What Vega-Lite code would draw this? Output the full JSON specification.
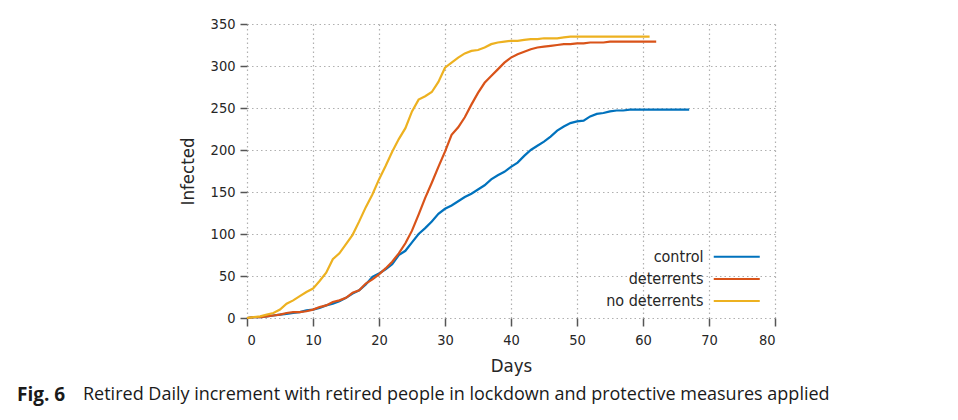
{
  "$schema": "https://vega.github.io/schema/vega-lite/v6.json",
  "autosize": {"type": "none"},
  "padding": {"left": 247, "top": 24, "right": 183, "bottom": 102},
  "width": 528,
  "height": 294,
  "background": "white",
  "config": {
    "view": {"stroke": null},
    "font": "DejaVu Sans Condensed",
    "axis": {
      "domain": false,
      "grid": true,
      "gridColor": "#b0b0b0",
      "gridDash": [1.5, 3],
      "gridWidth": 1.2,
      "tickColor": "#555555",
      "tickWidth": 1.5,
      "tickSize": 7,
      "labelFont": "DejaVu Sans Condensed",
      "labelFontSize": 14.5,
      "labelColor": "#262626",
      "titleFont": "DejaVu Sans Condensed",
      "titleFontSize": 18.5,
      "titleFontWeight": "normal",
      "titleColor": "#262626"
    }
  },
  "title": {
    "text": "Fig. 6",
    "subtitle": "\u200b\u2003\u2003\u2003\u2002\u2009Retired Daily increment with retired people in lockdown and protective measures applied",
    "orient": "bottom",
    "anchor": "start",
    "frame": "group",
    "dx": -230,
    "offset": 11,
    "font": "Open Sans",
    "fontSize": 19,
    "fontWeight": "bold",
    "color": "#1a1a1a",
    "subtitleFont": "Open Sans",
    "subtitleFontSize": 18,
    "subtitleColor": "#1a1a1a",
    "subtitlePadding": -19
  },
  "data": {
    "values": [
      {"group":"control","day":0,"infected":0},{"group":"control","day":1,"infected":1},{"group":"control","day":2,"infected":1},{"group":"control","day":3,"infected":2},{"group":"control","day":4,"infected":3},{"group":"control","day":5,"infected":4},{"group":"control","day":6,"infected":5},{"group":"control","day":7,"infected":6},{"group":"control","day":8,"infected":7},{"group":"control","day":9,"infected":9},
      {"group":"control","day":10,"infected":10},{"group":"control","day":11,"infected":12},{"group":"control","day":12,"infected":15},{"group":"control","day":13,"infected":17},{"group":"control","day":14,"infected":20},{"group":"control","day":15,"infected":24},{"group":"control","day":16,"infected":29},{"group":"control","day":17,"infected":33},{"group":"control","day":18,"infected":40},{"group":"control","day":19,"infected":49},
      {"group":"control","day":20,"infected":53},{"group":"control","day":21,"infected":58},{"group":"control","day":22,"infected":64},{"group":"control","day":23,"infected":75},{"group":"control","day":24,"infected":80},{"group":"control","day":25,"infected":90},{"group":"control","day":26,"infected":100},{"group":"control","day":27,"infected":107},{"group":"control","day":28,"infected":115},{"group":"control","day":29,"infected":124},
      {"group":"control","day":30,"infected":130},{"group":"control","day":31,"infected":134},{"group":"control","day":32,"infected":139},{"group":"control","day":33,"infected":144},{"group":"control","day":34,"infected":148},{"group":"control","day":35,"infected":153},{"group":"control","day":36,"infected":158},{"group":"control","day":37,"infected":165},{"group":"control","day":38,"infected":170},{"group":"control","day":39,"infected":174},
      {"group":"control","day":40,"infected":180},{"group":"control","day":41,"infected":185},{"group":"control","day":42,"infected":193},{"group":"control","day":43,"infected":200},{"group":"control","day":44,"infected":205},{"group":"control","day":45,"infected":210},{"group":"control","day":46,"infected":216},{"group":"control","day":47,"infected":223},{"group":"control","day":48,"infected":228},{"group":"control","day":49,"infected":232},
      {"group":"control","day":50,"infected":234},{"group":"control","day":51,"infected":235},{"group":"control","day":52,"infected":240},{"group":"control","day":53,"infected":243},{"group":"control","day":54,"infected":244},{"group":"control","day":55,"infected":246},{"group":"control","day":56,"infected":247},{"group":"control","day":57,"infected":247},{"group":"control","day":58,"infected":248},{"group":"control","day":59,"infected":248},
      {"group":"control","day":60,"infected":248},{"group":"control","day":61,"infected":248},{"group":"control","day":62,"infected":248},{"group":"control","day":63,"infected":248},{"group":"control","day":64,"infected":248},{"group":"control","day":65,"infected":248},{"group":"control","day":66,"infected":248},{"group":"control","day":67,"infected":248},
      {"group":"deterrents","day":0,"infected":0},{"group":"deterrents","day":1,"infected":1},{"group":"deterrents","day":2,"infected":1},{"group":"deterrents","day":3,"infected":2},{"group":"deterrents","day":4,"infected":3},{"group":"deterrents","day":5,"infected":4},{"group":"deterrents","day":6,"infected":6},{"group":"deterrents","day":7,"infected":7},{"group":"deterrents","day":8,"infected":7},{"group":"deterrents","day":9,"infected":8},
      {"group":"deterrents","day":10,"infected":10},{"group":"deterrents","day":11,"infected":13},{"group":"deterrents","day":12,"infected":15},{"group":"deterrents","day":13,"infected":19},{"group":"deterrents","day":14,"infected":21},{"group":"deterrents","day":15,"infected":24},{"group":"deterrents","day":16,"infected":30},{"group":"deterrents","day":17,"infected":33},{"group":"deterrents","day":18,"infected":41},{"group":"deterrents","day":19,"infected":46},
      {"group":"deterrents","day":20,"infected":52},{"group":"deterrents","day":21,"infected":59},{"group":"deterrents","day":22,"infected":67},{"group":"deterrents","day":23,"infected":77},{"group":"deterrents","day":24,"infected":89},{"group":"deterrents","day":25,"infected":104},{"group":"deterrents","day":26,"infected":123},{"group":"deterrents","day":27,"infected":143},{"group":"deterrents","day":28,"infected":161},{"group":"deterrents","day":29,"infected":180},
      {"group":"deterrents","day":30,"infected":198},{"group":"deterrents","day":31,"infected":218},{"group":"deterrents","day":32,"infected":227},{"group":"deterrents","day":33,"infected":239},{"group":"deterrents","day":34,"infected":254},{"group":"deterrents","day":35,"infected":268},{"group":"deterrents","day":36,"infected":280},{"group":"deterrents","day":37,"infected":288},{"group":"deterrents","day":38,"infected":296},{"group":"deterrents","day":39,"infected":304},
      {"group":"deterrents","day":40,"infected":310},{"group":"deterrents","day":41,"infected":314},{"group":"deterrents","day":42,"infected":317},{"group":"deterrents","day":43,"infected":320},{"group":"deterrents","day":44,"infected":322},{"group":"deterrents","day":45,"infected":323},{"group":"deterrents","day":46,"infected":324},{"group":"deterrents","day":47,"infected":325},{"group":"deterrents","day":48,"infected":326},{"group":"deterrents","day":49,"infected":326},
      {"group":"deterrents","day":50,"infected":327},{"group":"deterrents","day":51,"infected":327},{"group":"deterrents","day":52,"infected":328},{"group":"deterrents","day":53,"infected":328},{"group":"deterrents","day":54,"infected":328},{"group":"deterrents","day":55,"infected":329},{"group":"deterrents","day":56,"infected":329},{"group":"deterrents","day":57,"infected":329},{"group":"deterrents","day":58,"infected":329},{"group":"deterrents","day":59,"infected":329},
      {"group":"deterrents","day":60,"infected":329},{"group":"deterrents","day":61,"infected":329},{"group":"deterrents","day":62,"infected":329},
      {"group":"no deterrents","day":0,"infected":0},{"group":"no deterrents","day":1,"infected":1},{"group":"no deterrents","day":2,"infected":2},{"group":"no deterrents","day":3,"infected":4},{"group":"no deterrents","day":4,"infected":6},{"group":"no deterrents","day":5,"infected":10},{"group":"no deterrents","day":6,"infected":17},{"group":"no deterrents","day":7,"infected":21},{"group":"no deterrents","day":8,"infected":26},{"group":"no deterrents","day":9,"infected":31},
      {"group":"no deterrents","day":10,"infected":35},{"group":"no deterrents","day":11,"infected":44},{"group":"no deterrents","day":12,"infected":54},{"group":"no deterrents","day":13,"infected":70},{"group":"no deterrents","day":14,"infected":77},{"group":"no deterrents","day":15,"infected":88},{"group":"no deterrents","day":16,"infected":99},{"group":"no deterrents","day":17,"infected":115},{"group":"no deterrents","day":18,"infected":132},{"group":"no deterrents","day":19,"infected":147},
      {"group":"no deterrents","day":20,"infected":165},{"group":"no deterrents","day":21,"infected":181},{"group":"no deterrents","day":22,"infected":198},{"group":"no deterrents","day":23,"infected":213},{"group":"no deterrents","day":24,"infected":226},{"group":"no deterrents","day":25,"infected":246},{"group":"no deterrents","day":26,"infected":260},{"group":"no deterrents","day":27,"infected":264},{"group":"no deterrents","day":28,"infected":269},{"group":"no deterrents","day":29,"infected":281},
      {"group":"no deterrents","day":30,"infected":298},{"group":"no deterrents","day":31,"infected":304},{"group":"no deterrents","day":32,"infected":310},{"group":"no deterrents","day":33,"infected":315},{"group":"no deterrents","day":34,"infected":318},{"group":"no deterrents","day":35,"infected":319},{"group":"no deterrents","day":36,"infected":322},{"group":"no deterrents","day":37,"infected":326},{"group":"no deterrents","day":38,"infected":328},{"group":"no deterrents","day":39,"infected":329},
      {"group":"no deterrents","day":40,"infected":330},{"group":"no deterrents","day":41,"infected":330},{"group":"no deterrents","day":42,"infected":331},{"group":"no deterrents","day":43,"infected":332},{"group":"no deterrents","day":44,"infected":332},{"group":"no deterrents","day":45,"infected":333},{"group":"no deterrents","day":46,"infected":333},{"group":"no deterrents","day":47,"infected":333},{"group":"no deterrents","day":48,"infected":334},{"group":"no deterrents","day":49,"infected":335},
      {"group":"no deterrents","day":50,"infected":335},{"group":"no deterrents","day":51,"infected":335},{"group":"no deterrents","day":52,"infected":335},{"group":"no deterrents","day":53,"infected":335},{"group":"no deterrents","day":54,"infected":335},{"group":"no deterrents","day":55,"infected":335},{"group":"no deterrents","day":56,"infected":335},{"group":"no deterrents","day":57,"infected":335},{"group":"no deterrents","day":58,"infected":335},{"group":"no deterrents","day":59,"infected":335},
      {"group":"no deterrents","day":60,"infected":335},{"group":"no deterrents","day":61,"infected":335}
    ]
  },
  "mark": {"type": "line", "strokeWidth": 2.2, "interpolate": "linear"},
  "encoding": {
    "x": {
      "field": "day", "type": "quantitative",
      "scale": {"domain": [0, 80], "nice": false},
      "axis": {"values": [0,10,20,30,40,50,60,70,80], "title": "Days", "labelPadding": 7, "titlePadding": 10, "tickSize": 8}
    },
    "y": {
      "field": "infected", "type": "quantitative",
      "scale": {"domain": [0, 350], "nice": false},
      "axis": {"values": [0,50,100,150,200,250,300,350], "title": "Infected", "labelPadding": 5, "titlePadding": 13}
    },
    "color": {
      "field": "group", "type": "nominal",
      "scale": {"domain": ["control", "deterrents", "no deterrents"], "range": ["#0072BD", "#D95319", "#EDB120"]},
      "legend": {
        "title": null,
        "orient": "none",
        "legendX": 481.75,
        "legendY": 224.7,
        "direction": "vertical",
        "symbolType": "M-4,0H4",
        "symbolSize": 132.25,
        "symbolStrokeWidth": 2,
        "symbolFillColor": "transparent",
        "labelAlign": "right",
        "labelOffset": -41.25,
        "labelFont": "DejaVu Sans Condensed",
        "labelFontSize": 16,
        "labelColor": "#262626",
        "rowPadding": 6.2,
        "padding": 0
      }
    }
  }
}
